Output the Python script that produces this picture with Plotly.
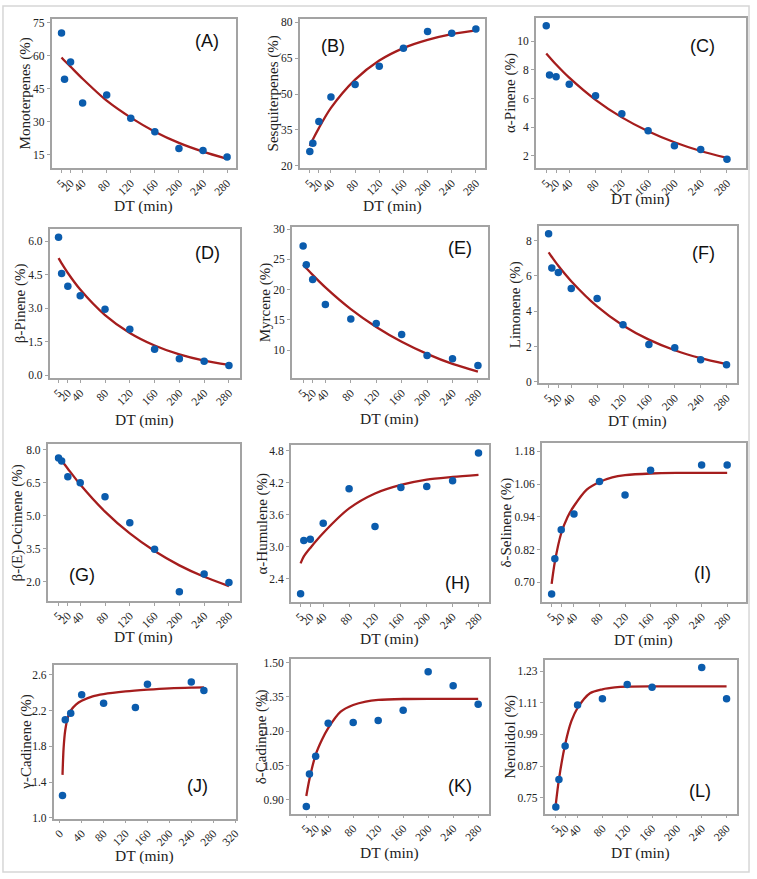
import plotly.graph_objects as go

W, H = 757, 879

# ---------------- data ----------------
DT = [5, 10, 20, 40, 80, 120, 160, 200, 240, 280]
DT_NO200 = [5, 10, 20, 40, 80, 120, 160, 240, 280]
DT_J = [5, 10, 20, 40, 80, 138, 160, 240, 263]

FIT_X = [5, 10, 20, 40, 80, 120, 160, 200, 240, 280]
FIT_X_FAST = [5, 10, 20, 30, 40, 60, 80, 100, 120, 160, 200, 240, 280]
FIT_X_J = [5, 7, 10, 15, 20, 30, 40, 60, 80, 120, 160, 200, 240, 263]

monoterpenes = [70.3, 49.3, 57.1, 38.5, 42.1, 31.5, 25.4, 17.7, 16.8, 13.9]
monoterpenes_fit = [59.2, 57.7, 55.0, 49.5, 39.5, 31.8, 25.4, 20.3, 16.3, 13.0]

sesquiterpenes = [26.0, 29.5, 38.5, 48.8, 54.0, 61.6, 69.1, 76.1, 75.4, 77.2]
sesquiterpenes_fit = [28.3, 31.0, 35.8, 44.2, 56.0, 64.0, 69.2, 72.6, 75.0, 76.6]

a_pinene = [11.08, 7.65, 7.53, 7.0, 6.2, 4.93, 3.75, 2.69, 2.44, 1.75]
a_pinene_fit = [9.15, 8.89, 8.38, 7.46, 5.91, 4.68, 3.71, 2.94, 2.33, 1.85]

b_pinene = [6.18, 4.56, 3.99, 3.56, 2.96, 2.07, 1.17, 0.75, 0.63, 0.45]
b_pinene_fit = [5.24, 5.01, 4.58, 3.84, 2.70, 1.90, 1.34, 0.94, 0.66, 0.47]

myrcene = [27.2, 24.1, 21.7, 17.55, 15.16, 14.4, 12.6, 9.13, 8.59, 7.5]
myrcene_fit = [24.13, 23.56, 22.45, 20.38, 16.79, 13.84, 11.40, 9.40, 7.74, 6.47]

limonene = [8.39, 6.45, 6.19, 5.28, 4.72, 3.23, 2.11, 1.93, 1.25, 0.97]
limonene_fit = [7.33, 7.07, 6.57, 5.70, 4.27, 3.19, 2.39, 1.79, 1.34, 1.00]

ocimene = [7.62, 7.48, 6.76, 6.49, 5.86, 4.67, 3.47, 1.54, 2.35, 1.96]
ocimene_fit = [7.70, 7.50, 7.13, 6.41, 5.18, 4.19, 3.39, 2.74, 2.22, 1.80]

humulene = [2.12, 3.12, 3.14, 3.44, 4.09, 3.38, 4.11, 4.13, 4.24, 4.76]
humulene_fit = [2.69, 2.82, 2.98, 3.26, 3.72, 4.00, 4.16, 4.26, 4.31, 4.35]

selinene = [0.658, 0.787, 0.893, 0.951, 1.07, 1.02, 1.111, 1.130, 1.130]
selinene_fit = [0.695, 0.775, 0.88, 0.94, 0.98, 1.04, 1.068, 1.085, 1.093, 1.099, 1.101, 1.101, 1.101]

g_cadinene = [1.25, 2.098, 2.172, 2.377, 2.284, 2.235, 2.496, 2.522, 2.425]
g_cadinene_fit = [1.48, 1.78, 1.98, 2.13, 2.20, 2.27, 2.31, 2.36, 2.385, 2.415, 2.435, 2.45, 2.458, 2.46]

d_cadinene = [0.871, 1.013, 1.091, 1.235, 1.238, 1.247, 1.292, 1.46, 1.399, 1.318]
d_cadinene_fit = [0.917, 0.99, 1.098, 1.163, 1.214, 1.286, 1.315, 1.330, 1.337, 1.341, 1.342, 1.342, 1.342]

nerolidol = [0.715, 0.819, 0.946, 1.101, 1.125, 1.179, 1.169, 1.243, 1.125]
nerolidol_fit = [0.727, 0.82, 0.952, 1.04, 1.09, 1.146, 1.161, 1.168, 1.171, 1.172, 1.172, 1.172, 1.172]

XTICKS = [5, 20, 40, 80, 120, 160, 200, 240, 280]
XTICKS_J = [0, 40, 80, 120, 160, 200, 240, 280, 320]

# ---------------- panel layout (pixels) ----------------
panels = [
    dict(lab="(A)", yt="Monoterpenes (%)", x=DT, y=monoterpenes, fx=FIT_X, fy=monoterpenes_fit,
         box=(51, 237, 15, 166), xr=[-11.5, 295], yr=[8.7, 76.8], yt_v=[15, 30, 45, 60, 75], fmt="d",
         lp=(208, 37), ytx=25, xty=204, xt=XTICKS),
    dict(lab="(B)", yt="Sesquiterpenes (%)", x=DT, y=sesquiterpenes, fx=FIT_X, fy=sesquiterpenes_fit,
         box=(301, 488, 15, 166), xr=[-11.9, 295.3], yr=[19, 81.4], yt_v=[20, 35, 50, 65, 80], fmt="d",
         lp=(335, 42), ytx=275, xty=204, xt=XTICKS),
    dict(lab="(C)", yt="α-Pinene (%)", x=DT, y=a_pinene, fx=FIT_X, fy=a_pinene_fit,
         box=(539, 751, 14, 166), xr=[-11, 309], yr=[1.12, 11.64], yt_v=[2, 4, 6, 8, 10], fmt="d",
         lp=(707, 42), ytx=513, xty=197, xt=XTICKS),
    dict(lab="(D)", yt="β-Pinene (%)", x=DT, y=b_pinene, fx=FIT_X, fy=b_pinene_fit,
         box=(49, 241, 227, 378), xr=[-9.4, 298], yr=[-0.12, 6.56], yt_v=[0, 1.5, 3, 4.5, 6], fmt=".1f",
         lp=(208, 252), ytx=20, xty=420, xt=XTICKS),
    dict(lab="(E)", yt="Myrcene (%)", x=DT, y=myrcene, fx=FIT_X, fy=myrcene_fit,
         box=(293, 491, 225, 378), xr=[-13, 296], yr=[5.4, 30.4], yt_v=[10, 15, 20, 25, 30], fmt="d",
         lp=(463, 247), ytx=267, xty=419, xt=XTICKS),
    dict(lab="(F)", yt="Limonene (%)", x=DT, y=limonene, fx=FIT_X, fy=limonene_fit,
         box=(542, 742, 224, 383), xr=[-10.3, 296.4], yr=[-0.07, 8.84], yt_v=[0, 2, 4, 6, 8], fmt="d",
         lp=(708, 252), ytx=518, xty=421, xt=XTICKS),
    dict(lab="(G)", yt="β-(E)-Ocimene (%)", x=DT, y=ocimene, fx=FIT_X, fy=ocimene_fit,
         box=(47, 241, 445, 603), xr=[-12.6, 298], yr=[1.13, 8.23], yt_v=[2, 3.5, 5, 6.5, 8], fmt=".1f",
         lp=(82, 577), ytx=17, xty=640, xt=XTICKS),
    dict(lab="(H)", yt="α-Humulene (%)", x=DT, y=humulene, fx=FIT_X, fy=humulene_fit,
         box=(292, 492, 446, 604), xr=[-10.3, 296.4], yr=[1.97, 4.9], yt_v=[2.4, 3.0, 3.6, 4.2, 4.8], fmt=".1f",
         lp=(460, 585), ytx=264, xty=642, xt=XTICKS),
    dict(lab="(I)", yt="δ-Selinene (%)", x=DT_NO200, y=selinene, fx=FIT_X_FAST, fy=selinene_fit,
         box=(545, 751, 444, 604), xr=[-10.6, 309.6], yr=[0.629, 1.209], yt_v=[0.70, 0.82, 0.94, 1.06, 1.18], fmt=".2f",
         lp=(707, 575), ytx=510, xty=643, xt=XTICKS),
    dict(lab="(J)", yt="γ-Cadinene (%)", x=DT_J, y=g_cadinene, fx=FIT_X_J, fy=g_cadinene_fit,
         box=(53, 237, 668, 823), xr=[-11.3, 321.8], yr=[0.99, 2.71], yt_v=[1.0, 1.4, 1.8, 2.2, 2.6], fmt=".1f",
         lp=(198, 790), ytx=26, xty=861, xt=XTICKS_J),
    dict(lab="(K)", yt="δ-Cadinene (%)", x=DT, y=d_cadinene, fx=FIT_X_FAST, fy=d_cadinene_fit,
         box=(292, 492, 662, 818), xr=[-20, 297.5], yr=[0.84, 1.515], yt_v=[0.90, 1.05, 1.20, 1.35, 1.50], fmt=".2f",
         lp=(463, 790), ytx=262, xty=858, xt=XTICKS),
    dict(lab="(L)", yt="Nerolidol (%)", x=DT_NO200, y=nerolidol, fx=FIT_X_FAST, fy=nerolidol_fit,
         box=(548, 742, 663, 818), xr=[-13, 297], yr=[0.69, 1.271], yt_v=[0.75, 0.87, 0.99, 1.11, 1.23], fmt=".2f",
         lp=(705, 795), ytx=514, xty=858, xt=XTICKS),
]

SERIF = "Liberation Serif"
SANS = "Liberation Sans"
FRAME = "#a3a3a3"
DOT = "#0b5cad"
LINE = "#a51d1d"


def px(x):
    return x / W


def py(y):
    return 1 - y / H


fig = go.Figure()
layout = dict(
    width=W, height=H, margin=dict(l=0, r=0, t=0, b=0),
    paper_bgcolor="white", plot_bgcolor="white", showlegend=False,
    annotations=[], shapes=[],
)

for i, p in enumerate(panels):
    n = "" if i == 0 else str(i + 1)
    xa, ya = "x" + n, "y" + n
    x0, x1, y0, y1 = p["box"]
    fig.add_trace(go.Scatter(x=p["fx"], y=p["fy"], mode="lines", xaxis=xa, yaxis=ya,
                             line=dict(color=LINE, width=2.3, shape="spline", smoothing=0.8),
                             hoverinfo="skip"))
    fig.add_trace(go.Scatter(x=p["x"], y=p["y"], mode="markers", xaxis=xa, yaxis=ya,
                             marker=dict(color=DOT, size=7.5, line=dict(width=0))))
    if p["fmt"] == "d":
        ytext = [str(int(v)) for v in p["yt_v"]]
    else:
        ytext = [format(v, p["fmt"]) for v in p["yt_v"]]
    axis_common = dict(showline=True, mirror=True, linecolor=FRAME, linewidth=1.5,
                       ticks="outside", ticklen=3, tickcolor=FRAME, tickwidth=1,
                       showgrid=False, zeroline=False,
                       tickfont=dict(family=SERIF, size=11.5, color="#222"))
    layout["xaxis" + n] = dict(axis_common, domain=[px(x0), px(x1)], anchor=ya, range=p["xr"],
                               tickmode="array", tickvals=p["xt"], ticktext=[str(v) for v in p["xt"]],
                               tickangle=-45, ticklabelstandoff=-1)
    layout["yaxis" + n] = dict(axis_common, domain=[py(y1), py(y0)], anchor=xa, range=p["yr"],
                               tickmode="array", tickvals=p["yt_v"], ticktext=ytext)
    # panel letter
    layout["annotations"].append(dict(text=p["lab"], x=px(p["lp"][0]), y=py(p["lp"][1]),
                                      xref="paper", yref="paper", showarrow=False,
                                      xanchor="center", yanchor="middle",
                                      font=dict(family=SANS, size=18, color="#111")))
    # x title
    layout["annotations"].append(dict(text="DT (min)", x=px((x0 + x1) / 2), y=py(p["xty"]),
                                      xref="paper", yref="paper", showarrow=False,
                                      xanchor="center", yanchor="middle",
                                      font=dict(family=SERIF, size=15.5, color="#222")))
    # y title
    layout["annotations"].append(dict(text=p["yt"], x=px(p["ytx"]), y=py((y0 + y1) / 2),
                                      xref="paper", yref="paper", showarrow=False, textangle=-90,
                                      xanchor="center", yanchor="middle",
                                      font=dict(family=SERIF, size=15, color="#222")))

layout["shapes"].append(dict(type="rect", xref="paper", yref="paper",
                             x0=px(2), x1=px(754), y0=py(877), y1=py(2),
                             line=dict(color="#d6d6d6", width=1.5)))

fig.update_layout(**layout)
fig.write_html("out.html")
